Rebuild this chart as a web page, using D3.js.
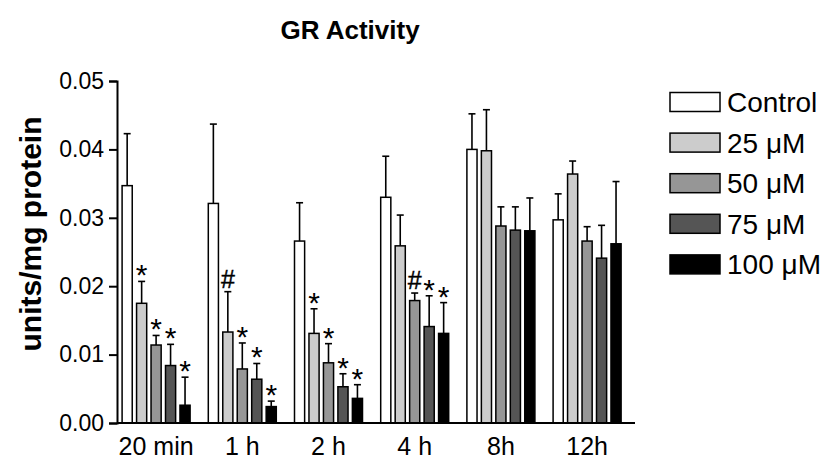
<!DOCTYPE html>
<html>
<head>
<meta charset="utf-8">
<script src="https://cdn.jsdelivr.net/npm/d3@7"></script>
<style>
  body { margin: 0; background: #fff; }
  text { font-family: "Liberation Sans", Arial, sans-serif; }
</style>
</head>
<body>
<svg id="chart" width="825" height="464"></svg>
<script>
var groups = ["20 min", "1 h", "2 h", "4 h", "8h", "12h"];
var series = ["Control", "25 \u03bcM", "50 \u03bcM", "75 \u03bcM", "100 \u03bcM"];
var colors = ["#ffffff", "#cccccc", "#969696", "#555555", "#000000"];

// mean values per series, one per time point
var control = [0.0347, 0.0321, 0.0266, 0.0330, 0.0400, 0.0297];
var c25     = [0.0175, 0.0133, 0.0131, 0.0259, 0.0398, 0.0364];
var c50     = [0.0114, 0.0079, 0.0088, 0.0179, 0.0288, 0.0266];
var c75     = [0.0084, 0.0064, 0.0053, 0.0141, 0.0282, 0.0241];
var c100    = [0.0026, 0.0024, 0.0036, 0.0131, 0.0281, 0.0262];

// upper error (SD)
var sdControl = [0.0076, 0.0116, 0.0056, 0.0060, 0.0052, 0.0038];
var sd25      = [0.0032, 0.0059, 0.0036, 0.0045, 0.0060, 0.0019];
var sd50      = [0.0014, 0.0038, 0.0028, 0.0011, 0.0028, 0.0021];
var sd75      = [0.0031, 0.0023, 0.0019, 0.0045, 0.0034, 0.0048];
var sd100     = [0.0041, 0.0008, 0.0020, 0.0045, 0.0048, 0.0091];

// significance marks
var mkControl = ["", "", "", "", "", ""];
var mk25      = ["*", "#", "*", "", "", ""];
var mk50      = ["*", "*", "*", "#", "", ""];
var mk75      = ["*", "*", "*", "*", "", ""];
var mk100     = ["*", "*", "*", "*", "", ""];

var yTicks = [0, 0.01, 0.02, 0.03, 0.04, 0.05];

var means = [control, c25, c50, c75, c100];
var sds = [sdControl, sd25, sd50, sd75, sd100];
var marks = [mkControl, mk25, mk50, mk75, mk100];

var rows = [];
groups.forEach(function(g, gi) {
  series.forEach(function(s, si) {
    rows.push({ group: g, series: s, si: si, v: means[si][gi], sd: sds[si][gi], mark: marks[si][gi] });
  });
});

var svg = d3.select('#chart');

var x0 = d3.scaleBand().domain(groups).range([113, 113 + 6 * 86.2]).padding(0);
var x1 = d3.scaleBand().domain(series).range([0, 68]).paddingInner(0.3).paddingOuter(0);
var y = d3.scaleLinear().domain([0, 0.05]).range([423, 81]);

// title
svg.append('text')
  .attr('x', 350).attr('y', 39)
  .attr('text-anchor', 'middle')
  .attr('font-size', 26).attr('font-weight', 'bold')
  .text('GR Activity');

// y axis
var yAxis = svg.append('g')
  .attr('transform', 'translate(117,0)')
  .call(d3.axisLeft(y).tickValues(yTicks).tickFormat(d3.format('.2f')).tickSizeOuter(0).tickSize(8).tickPadding(5));
yAxis.select('.domain').attr('stroke', '#000').attr('stroke-width', 2);
yAxis.selectAll('.tick line').attr('stroke', '#000').attr('stroke-width', 2);
yAxis.selectAll('.tick text')
  .attr('font-size', 23)
  .attr('font-family', '"Liberation Sans", Arial, sans-serif')
  .attr('fill', '#000');

svg.append('text')
  .attr('transform', 'translate(41,234) rotate(-90)')
  .attr('text-anchor', 'middle')
  .attr('font-size', 30).attr('font-weight', 'bold')
  .text('units/mg protein');

// bars
var barG = svg.append('g').attr('class', 'bars');
var bar = barG.selectAll('g.bar').data(rows).enter().append('g')
  .attr('class', 'bar')
  .attr('transform', function(d) {
    var cx = x0(d.group) + x0.bandwidth() / 2 - 34;
    return 'translate(' + (cx + x1(d.series)) + ',0)';
  });

bar.append('rect')
  .attr('x', 0)
  .attr('width', x1.bandwidth())
  .attr('y', function(d) { return y(d.v); })
  .attr('height', function(d) { return y(0) - y(d.v); })
  .attr('fill', function(d) { return colors[d.si]; })
  .attr('stroke', '#000')
  .attr('stroke-width', 1.5);

var bw = x1.bandwidth();
bar.append('line')
  .attr('x1', bw / 2).attr('x2', bw / 2)
  .attr('y1', function(d) { return y(d.v); })
  .attr('y2', function(d) { return y(d.v + d.sd); })
  .attr('stroke', '#000').attr('stroke-width', 1.6);
bar.append('line')
  .attr('x1', bw / 2 - 3.5).attr('x2', bw / 2 + 3.5)
  .attr('y1', function(d) { return y(d.v + d.sd); })
  .attr('y2', function(d) { return y(d.v + d.sd); })
  .attr('stroke', '#000').attr('stroke-width', 1.6);

bar.filter(function(d) { return d.mark === '*'; }).append('text')
  .attr('x', bw / 2)
  .attr('y', function(d) { return y(d.v + d.sd) + 4; })
  .attr('text-anchor', 'middle')
  .attr('font-size', 30)
  .text(function(d) { return d.mark; });
bar.filter(function(d) { return d.mark === '#'; }).append('text')
  .attr('x', bw / 2)
  .attr('y', function(d) { return y(d.v + d.sd) - 4; })
  .attr('text-anchor', 'middle')
  .attr('font-size', 25)
  .attr('stroke', '#000').attr('stroke-width', 0.4)
  .text(function(d) { return d.mark; });

// x axis line
svg.append('line')
  .attr('x1', 117).attr('x2', 635)
  .attr('y1', y(0)).attr('y2', y(0))
  .attr('stroke', '#000').attr('stroke-width', 2);

svg.selectAll('text.xlab').data(groups).enter().append('text')
  .attr('class', 'xlab')
  .attr('x', function(d) { return x0(d) + x0.bandwidth() / 2; })
  .attr('y', 455)
  .attr('text-anchor', 'middle')
  .attr('font-size', 25)
  .text(function(d) { return d; });

// legend
var leg = svg.append('g').attr('class', 'legend');
var legItem = leg.selectAll('g').data(series).enter().append('g')
  .attr('transform', function(d, i) { return 'translate(670,' + (102 + i * 40.6) + ')'; });
legItem.append('rect')
  .attr('x', 0).attr('y', -9.5)
  .attr('width', 50).attr('height', 19)
  .attr('fill', function(d, i) { return colors[i]; })
  .attr('stroke', '#000').attr('stroke-width', 1.5);
legItem.append('text')
  .attr('x', 57).attr('y', 10)
  .attr('font-size', 28)
  .text(function(d) { return d; });
</script>
</body>
</html>
